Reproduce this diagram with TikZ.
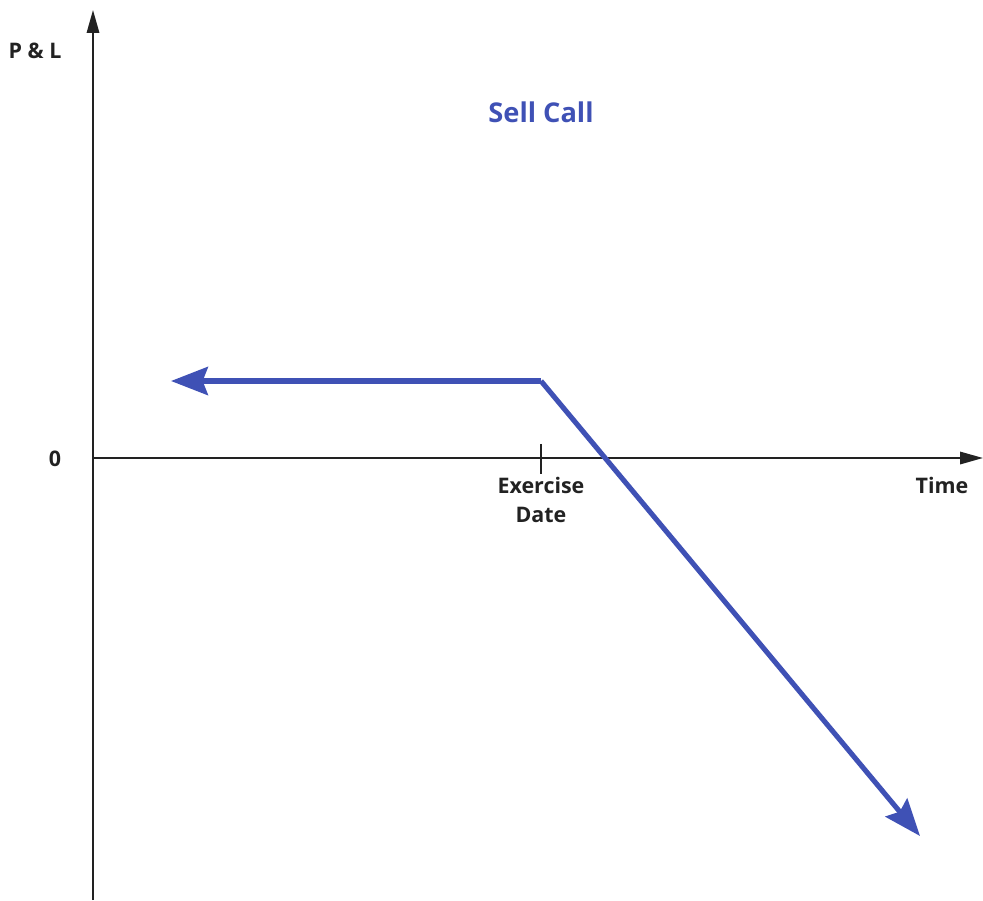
\documentclass[tikz,border=0pt]{standalone}
\usepackage{fontspec}
\setmainfont{Open Sans}
\usetikzlibrary{arrows.meta}
\usetikzlibrary{positioning}
\definecolor{mblue}{RGB}{63, 81, 181}
\definecolor{mgray}{RGB}{34, 34, 34}
\tikzset{axisline/.style = {line width = 1.2pt, mgray, -{Stealth[length = 13pt, width = 7pt, inset = 0pt]}}}
\tikzset{payoff/.style = {mblue, line width = 2.9pt, -{Stealth[length = 21pt, width = 16pt, inset = 3pt]}}}
\tikzset{lbl/.style = {font = \bfseries\fontsize{12.2}{16.5}\selectfont, mgray, align = center}}

\begin{document}
\begin{tikzpicture}[x = 0.02cm, y = -0.02cm]
      \useasboundingbox (0, 0) rectangle (983, 900);

      \coordinate (ybot) at (93, 900);
      \coordinate (ytop) at (93, 10);
      \coordinate (xleft) at (93, 458);
      \coordinate (xright) at (983, 458);
      \coordinate (strike) at (541, 458);
      \coordinate (kink) at (541, 381);
      \coordinate (lefttip) at (171, 381);
      \coordinate (downtip) at (920, 836);

      \draw [axisline] (ybot) -- (ytop);
      \draw [axisline] (xleft) -- (xright);
      \draw [mgray, line width = 1.2pt] ([yshift = 8] strike) -- ([yshift = -9] strike);

      \draw [payoff] (kink) -- (lefttip);
      \draw [payoff] (kink) -- (downtip);

      \node [lbl] (pl) at (35, 51) {P \& L};
      \node [lbl] (zero) at (55, 459) {0};
      \node [lbl] (exdate) at (541, 500) {Exercise\\Date};
      \node [lbl] (time) at (942, 485) {Time};
      \node [font = \bfseries\fontsize{15.5}{18}\selectfont, mblue] (title) at (541, 112) {Sell Call};
    \end{tikzpicture}
\end{document}
